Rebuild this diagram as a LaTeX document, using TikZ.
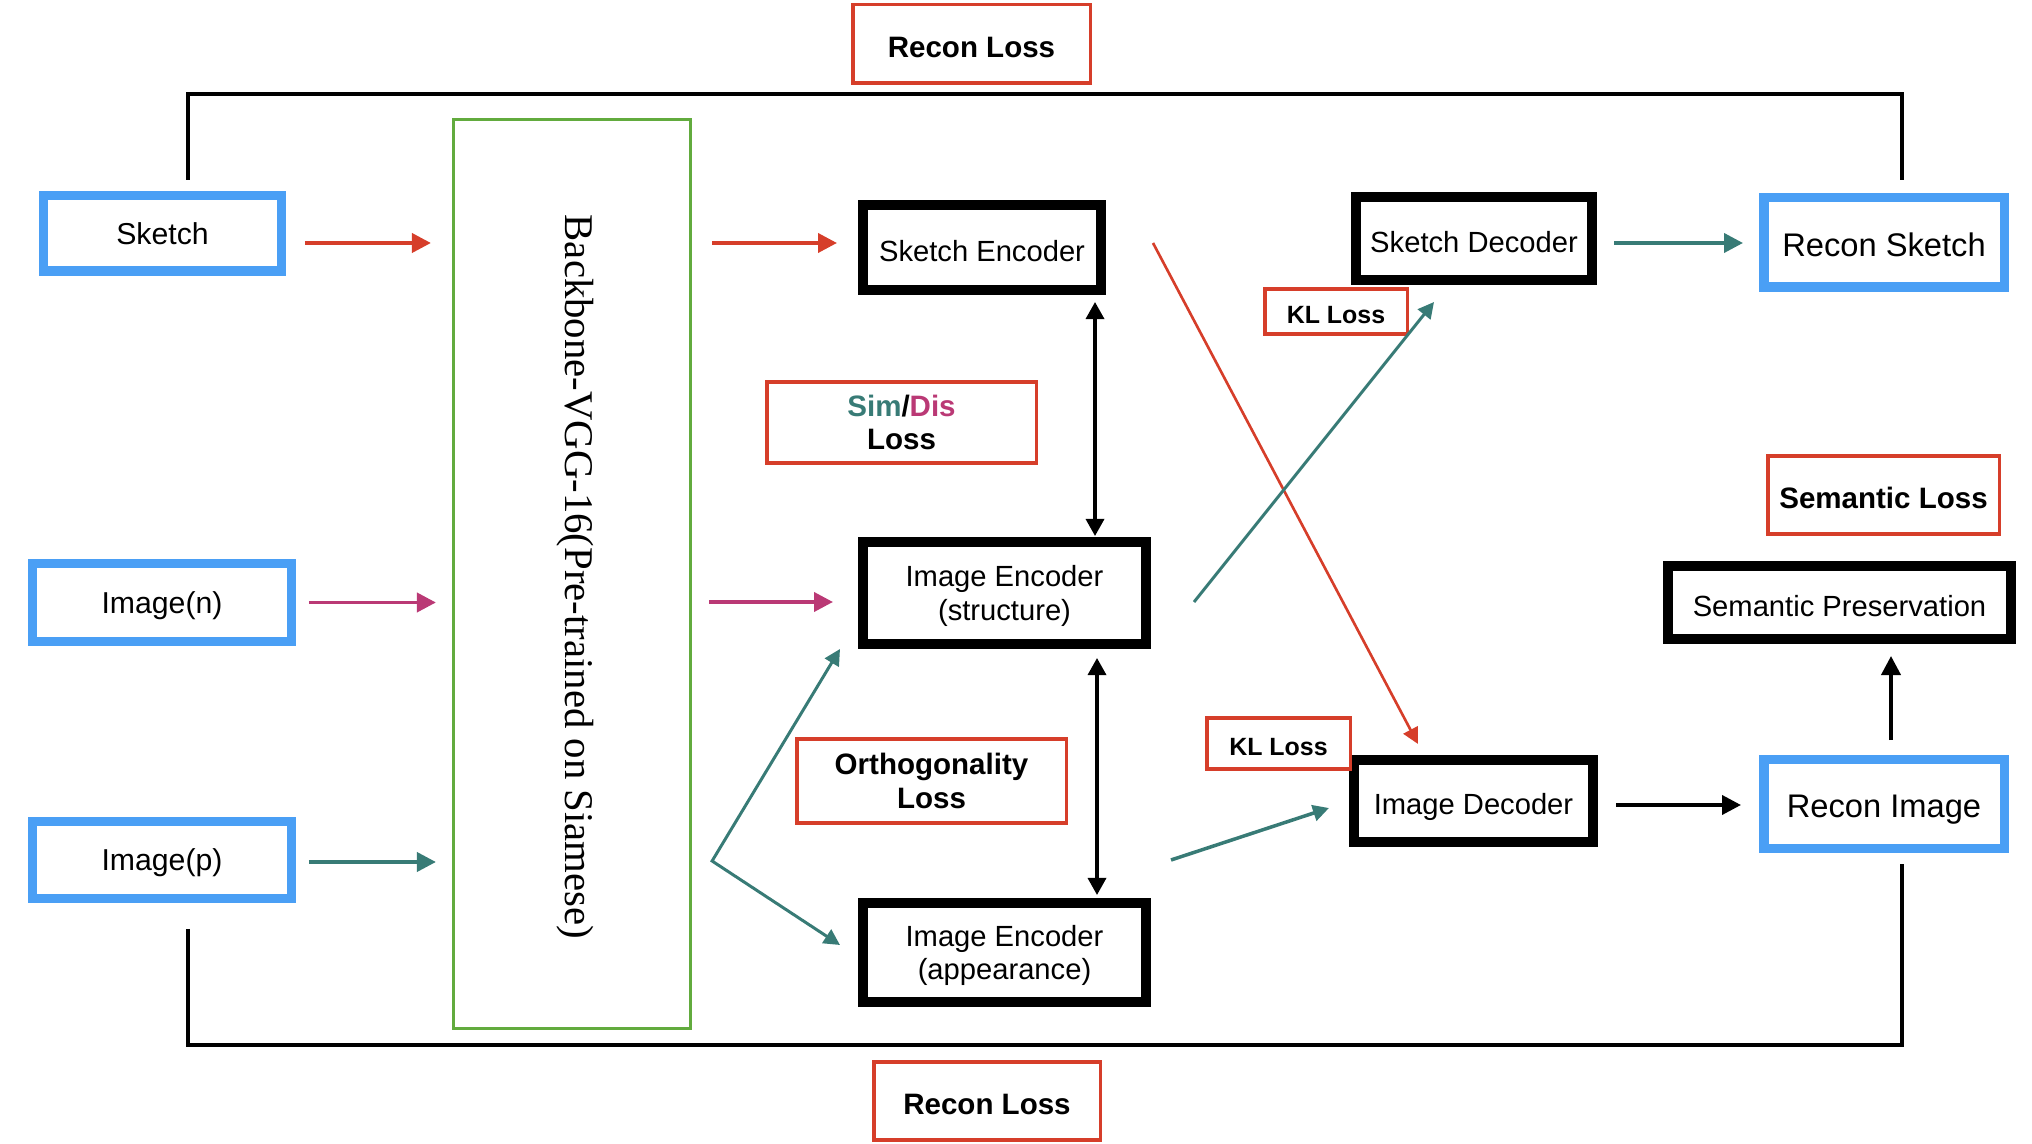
\documentclass[tikz,border=0pt]{standalone}
\usepackage{fontspec}
\setmainfont{Liberation Sans}
\newfontfamily\vggfont{Liberation Serif}
\usetikzlibrary{arrows.meta}

\definecolor{lossred}{RGB}{214,62,42}
\definecolor{negpink}{RGB}{186,57,117}
\definecolor{posteal}{RGB}{56,123,118}
\definecolor{vggreen}{RGB}{98,171,62}
\definecolor{inblue}{RGB}{74,159,245}

\tikzset{
  inbox/.style={draw=inblue,line width=2.7pt,inner sep=0pt,text depth=0pt,font=\fontsize{8.6}{10}\selectfont},
  outbox/.style={inbox,font=\fontsize{9.3}{11}\selectfont,execute at begin node={\rule{0pt}{0.85em}}},
  netbox/.style={draw,line width=2.85pt,inner sep=0pt,align=center,text depth=0pt,font=\fontsize{8.3}{9.6}\selectfont,execute at begin node={\rule{0pt}{0.95em}}},
  lossbox/.style={draw=lossred,line width=1pt,inner sep=0pt,align=center,font=\bfseries\fontsize{8.4}{9.6}\selectfont,execute at begin node={\rule{0pt}{0.95em}}},
  klbox/.style={lossbox,font=\bfseries\fontsize{7.1}{9}\selectfont},
  flow/.style={->,line width=1.1pt},
  cross/.style={->,line width=0.85pt,>={Triangle[length=1.6mm,width=1.6mm]}},
  pair/.style={<->,line width=0.95pt,>={Triangle[length=1.7mm,width=1.8mm]}},
  loopline/.style={line width=1pt}
}

\begin{document}
\begin{tikzpicture}[line join=miter,>={Triangle[length=1.9mm,width=1.9mm]},x=1.0cm,y=1.0cm]
\useasboundingbox (0,0) rectangle (20.32,-11.44);
% inputs and backbone
\node[inbox,minimum width=2.375cm,minimum height=0.755cm] (sketch) at (1.625,-2.335) {Sketch};
\node[inbox,minimum width=2.585cm,minimum height=0.775cm] (imgn) at (1.62,-6.025) {Image(n)};
\node[inbox,minimum width=2.585cm,minimum height=0.765cm] (imgp) at (1.62,-8.6) {Image(p)};
\node[draw=vggreen,line width=0.9pt,minimum width=2.37cm,minimum height=9.09cm] (backbone) at (5.72,-5.74) {};
\node[rotate=-90,font=\vggfont\fontsize{11.6}{14}\selectfont] (backbonetxt) at ([xshift=0.3mm,yshift=-0.3mm]backbone.center) {Backbone-VGG-16(Pre-trained on Siamese)};
% encoders and decoders
\node[netbox,minimum width=2.38cm,minimum height=0.85cm] (skenc) at (9.82,-2.475) {Sketch Encoder};
\node[netbox,minimum width=2.83cm,minimum height=1.02cm] (imgencs) at (10.045,-5.93) {Image Encoder\\(structure)};
\node[netbox,minimum width=2.83cm,minimum height=0.99cm] (imgenca) at (10.045,-9.525) {Image Encoder\\(appearance)};
\node[netbox,minimum width=2.36cm,minimum height=0.83cm] (skdec) at (14.74,-2.385) {Sketch Decoder};
\node[netbox,minimum width=2.39cm,minimum height=0.82cm] (imgdec) at (14.735,-8.01) {Image Decoder};
\node[netbox,minimum width=3.43cm,minimum height=0.73cm] (sempres) at (18.395,-6.025) {Semantic Preservation};
\node[outbox,minimum width=2.405cm,minimum height=0.895cm] (reconsk) at (18.84,-2.425) {Recon Sketch};
\node[outbox,minimum width=2.405cm,minimum height=0.885cm] (reconimg) at (18.84,-8.04) {Recon Image};
% losses
\node[lossbox,minimum width=2.375cm,minimum height=0.785cm] (recontop) at (9.715,-0.44) {Recon Loss};
\node[lossbox,minimum width=2.265cm,minimum height=0.785cm] (reconbot) at (9.87,-11.01) {Recon Loss};
\node[lossbox,minimum width=2.695cm,minimum height=0.815cm] (simdis) at (9.015,-4.225) {\textcolor{posteal}{Sim}/\textcolor{negpink}{Dis}\\Loss};
\node[lossbox,minimum width=2.695cm,minimum height=0.845cm] (ortho) at (9.315,-7.81) {Orthogonality\\Loss};
\node[klbox,minimum width=1.425cm,minimum height=0.455cm] (kltop) at (13.36,-3.115) {KL Loss};
\node[klbox,minimum width=1.435cm,minimum height=0.515cm] (klbot) at (12.785,-7.435) {KL Loss};
\node[lossbox,minimum width=2.315cm,minimum height=0.785cm] (semloss) at (18.835,-4.95) {Semantic Loss};
% into and out of the backbone
\draw[flow,lossred,shorten <=1.9mm,shorten >=2.1mm] ([yshift=-0.95mm]sketch.east) -- ([yshift=-0.95mm]sketch.east -| backbone.west);
\draw[flow,lossred,shorten <=2mm,shorten >=2.1mm] ([yshift=0.45mm]skenc.west -| backbone.east) -- ([yshift=0.45mm]skenc.west);
\draw[flow,negpink,shorten <=1.3mm,shorten >=1.6mm] (imgn.east) -- (imgn.east -| backbone.west);
\draw[flow,negpink,shorten <=1.7mm,shorten >=2.5mm] ([yshift=-0.9mm]imgencs.west -| backbone.east) -- ([yshift=-0.9mm]imgencs.west);
\draw[flow,posteal,shorten <=1.3mm,shorten >=1.6mm] ([yshift=-0.2mm]imgp.east) -- ([yshift=-0.2mm]imgp.east -| backbone.west);
\coordinate (split) at ([xshift=2mm,yshift=-0.1mm]imgp.east -| backbone.east);
\draw[cross,<->,posteal] ([xshift=-1.8mm]imgencs.south west) -- (split) -- ([shift={(-1.8mm,0.75mm)}]imgenca.west);
% between encoders
\draw[pair,shorten <=0.7mm,shorten >=0.1mm] ([xshift=-1.1mm]skenc.south east) -- ([xshift=-1.1mm]skenc.south east |- imgencs.north);
\draw[pair,shorten <=0.9mm,shorten >=0.3mm] ([xshift=-5.4mm]imgencs.south east) -- ([xshift=-5.4mm]imgencs.south east |- imgenca.north);
\draw[cross,lossred,line width=0.75pt] ([shift={(4.7mm,0.45mm)}]skenc.east) -- ([shift={(-5.55mm,1.1mm)}]imgdec.north);
\draw[cross,posteal] ([shift={(4.3mm,-0.9mm)}]imgencs.east) -- ([shift={(-4mm,-1.7mm)}]skdec.south);
\draw[cross,posteal,line width=1pt] ([shift={(2mm,3.8mm)}]imgenca.north east) -- ([shift={(-2mm,-0.7mm)}]imgdec.west);
% decoders to outputs
\draw[flow,posteal,shorten <=1.7mm,shorten >=1.6mm] ([yshift=-0.45mm]skdec.east) -- ([yshift=-0.45mm]skdec.east -| reconsk.west);
\draw[flow,shorten <=1.8mm,shorten >=1.8mm] ([yshift=-0.4mm]imgdec.east) -- ([yshift=-0.4mm]imgdec.east -| reconimg.west);
\draw[flow,shorten <=1.5mm,shorten >=1.2mm] ([xshift=0.7mm]reconimg.north) -- ([xshift=0.7mm]reconimg.north |- sempres.south);
% reconstruction loops
\draw[loopline] ([shift={(2.55mm,1.1mm)}]sketch.north) |- ([yshift=-0.9mm]recontop.south) -| ([shift={(1.8mm,1.3mm)}]reconsk.north);
\draw[loopline] ([shift={(2.6mm,-2.6mm)}]imgp.south) |- ([yshift=1.5mm]reconbot.north) -| ([shift={(1.8mm,-1.1mm)}]reconimg.south);
\end{tikzpicture}
\end{document}
